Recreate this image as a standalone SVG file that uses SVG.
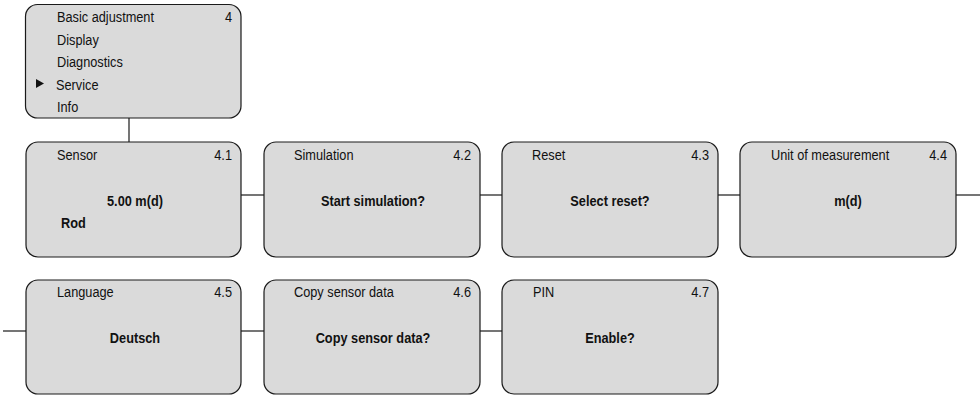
<svg xmlns="http://www.w3.org/2000/svg" width="980" height="395" viewBox="0 0 980 395">
<style>
.box{fill:#dadada;stroke:#1a1a1a;stroke-width:1.2}
.t{font-family:"Liberation Sans",Arial,sans-serif;font-size:15px;fill:#111}
.b{font-family:"Liberation Sans",Arial,sans-serif;font-size:15px;font-weight:bold;fill:#111}
.r{text-anchor:end}
.c{text-anchor:middle}
.ln{stroke:#1a1a1a;stroke-width:1.2;fill:none}
</style>
<rect width="980" height="395" fill="#fff"/>
<g id="connectors">
<line class="ln" x1="129" y1="118" x2="129" y2="142"/>
<line class="ln" x1="241" y1="195" x2="264" y2="195"/>
<line class="ln" x1="480" y1="195" x2="502" y2="195"/>
<line class="ln" x1="718" y1="195" x2="740" y2="195"/>
<line class="ln" x1="956" y1="195" x2="980" y2="195"/>
<line class="ln" x1="3" y1="331" x2="26" y2="331"/>
<line class="ln" x1="241" y1="331" x2="264" y2="331"/>
<line class="ln" x1="480" y1="331" x2="502" y2="331"/>
</g>
<g id="menu">
<rect class="box" x="25.5" y="4.5" width="215.5" height="113.5" rx="12"/>
<text class="t" transform="translate(57 22) scale(.85 1)">Basic adjustment</text>
<text class="t r" transform="translate(232 22) scale(.85 1)">4</text>
<text class="t" transform="translate(57 44.5) scale(.85 1)">Display</text>
<text class="t" transform="translate(57 67) scale(.85 1)">Diagnostics</text>
<polygon points="36,79 44,83.5 36,88" fill="#111"/>
<text class="t" transform="translate(56 89.5) scale(.85 1)">Service</text>
<text class="t" transform="translate(57 112) scale(.85 1)">Info</text>
</g>
<g id="n41">
<rect class="box" x="26" y="142" width="215" height="115" rx="12"/>
<text class="t" transform="translate(57 160) scale(.85 1)">Sensor</text>
<text class="t r" transform="translate(232 160) scale(.85 1)">4.1</text>
<text class="b c" transform="translate(135 206) scale(.85 1)">5.00 m(d)</text>
<text class="b" transform="translate(61 228) scale(.85 1)">Rod</text>
</g>
<g id="n42">
<rect class="box" x="264" y="142" width="216" height="115" rx="12"/>
<text class="t" transform="translate(294 160) scale(.85 1)">Simulation</text>
<text class="t r" transform="translate(471 160) scale(.85 1)">4.2</text>
<text class="b c" transform="translate(373 206) scale(.85 1)">Start simulation?</text>
</g>
<g id="n43">
<rect class="box" x="502" y="142" width="216" height="115" rx="12"/>
<text class="t" transform="translate(532 160) scale(.85 1)">Reset</text>
<text class="t r" transform="translate(709 160) scale(.85 1)">4.3</text>
<text class="b c" transform="translate(610 206) scale(.85 1)">Select reset?</text>
</g>
<g id="n44">
<rect class="box" x="740" y="142" width="216" height="115" rx="12"/>
<text class="t" transform="translate(771 160) scale(.85 1)">Unit of measurement</text>
<text class="t r" transform="translate(947 160) scale(.85 1)">4.4</text>
<text class="b c" transform="translate(848 206) scale(.85 1)">m(d)</text>
</g>
<g id="n45">
<rect class="box" x="26" y="280" width="215" height="114" rx="12"/>
<text class="t" transform="translate(57 297) scale(.85 1)">Language</text>
<text class="t r" transform="translate(232 297) scale(.85 1)">4.5</text>
<text class="b c" transform="translate(135 343) scale(.85 1)">Deutsch</text>
</g>
<g id="n46">
<rect class="box" x="264" y="280" width="216" height="114" rx="12"/>
<text class="t" transform="translate(294 297) scale(.85 1)">Copy sensor data</text>
<text class="t r" transform="translate(471 297) scale(.85 1)">4.6</text>
<text class="b c" transform="translate(373 343) scale(.85 1)">Copy sensor data?</text>
</g>
<g id="n47">
<rect class="box" x="502" y="280" width="216" height="114" rx="12"/>
<text class="t" transform="translate(533 297) scale(.85 1)">PIN</text>
<text class="t r" transform="translate(709 297) scale(.85 1)">4.7</text>
<text class="b c" transform="translate(610 343) scale(.85 1)">Enable?</text>
</g>
</svg>
